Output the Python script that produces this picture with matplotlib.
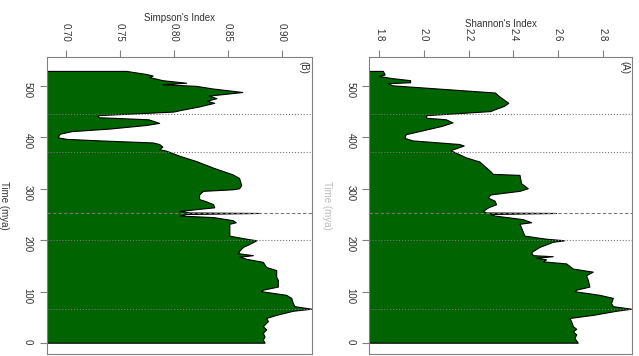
import numpy as np
import matplotlib
matplotlib.use('Agg')
import matplotlib.pyplot as plt

plt.rcParams['font.family'] = ['Liberation Sans', 'DejaVu Sans']

# Shannon's index, values (time in mya)
shannon_time = [528, 521, 518, 514, 510, 506, 504, 500, 486, 480, 466, 460, 452, 450,
                442, 437, 434, 428, 421, 414, 405, 398, 393, 386, 383, 374, 360, 352,
                333, 328, 326, 310, 300, 295, 288, 282, 276, 269, 263, 256, 253, 252,
                250, 247, 240, 234, 231, 224, 208, 202, 199, 196, 186, 176, 170, 168,
                165, 162, 158, 154, 149, 144, 138, 131, 122, 109, 103, 100, 93, 87,
                77, 71, 66, 62, 54, 48, 42, 32, 27, 22, 16, 9, 0]
shannon = [1.818, 1.826, 1.80, 1.86, 1.94, 1.94, 1.84, 1.86, 2.32, 2.335, 2.38, 2.36, 2.31, 2.30,
           2.012, 2.012, 2.10, 2.13, 2.08, 2.01, 1.92, 1.915, 1.95, 2.16, 2.18, 2.12, 2.19, 2.25,
           2.30, 2.31, 2.43, 2.437, 2.467, 2.43, 2.30, 2.288, 2.318, 2.325, 2.29, 2.266, 2.28, 2.594,
           2.30, 2.318, 2.445, 2.482, 2.43, 2.437, 2.452, 2.549, 2.631, 2.579, 2.519, 2.482, 2.49, 2.579,
           2.504, 2.549, 2.534, 2.639, 2.654, 2.669, 2.758, 2.728, 2.736, 2.743, 2.684, 2.676, 2.788, 2.848,
           2.840, 2.848, 2.93, 2.863, 2.758, 2.654, 2.661, 2.669, 2.684, 2.669, 2.684, 2.676, 2.691]

# Simpson's index
simpson_time = [528, 522, 519, 516, 510, 505, 502, 499, 494, 487, 480, 475, 470, 466,
                459, 453, 449, 442, 438, 434, 427, 423, 416, 411, 406, 399, 396, 393,
                389, 386, 381, 376, 373, 363, 353, 340, 327, 320, 306, 300, 298, 295,
                288, 279, 275, 269, 263, 260, 256, 253, 252, 250, 247, 244, 238, 234,
                231, 218, 208, 202, 199, 192, 186, 179, 174, 170, 167, 163, 157, 147,
                141, 128, 122, 109, 103, 100, 93, 87, 77, 71, 66, 62, 54, 48,
                42, 32, 26, 19, 12, 6, 0]
simpson = [0.7565, 0.775, 0.781, 0.778, 0.79, 0.812, 0.79, 0.821, 0.836, 0.864, 0.833, 0.840, 0.831, 0.838,
           0.824, 0.809, 0.800, 0.730, 0.731, 0.777, 0.787, 0.775, 0.741, 0.706, 0.695, 0.693, 0.701, 0.732,
           0.781, 0.787, 0.790, 0.787, 0.7935, 0.806, 0.821, 0.837, 0.855, 0.861, 0.863, 0.861, 0.855, 0.8275,
           0.824, 0.824, 0.83, 0.837, 0.838, 0.824, 0.806, 0.815, 0.880, 0.812, 0.806, 0.837, 0.855, 0.858,
           0.852, 0.852, 0.852, 0.8676, 0.877, 0.8707, 0.8645, 0.8614, 0.8599, 0.8738, 0.8614, 0.8676, 0.883, 0.8861,
           0.8954, 0.8954, 0.8969, 0.8969, 0.883, 0.8815, 0.9046, 0.9093, 0.9108, 0.9123, 0.9278, 0.9108, 0.8954, 0.8861,
           0.8877, 0.883, 0.8861, 0.883, 0.8846, 0.883, 0.8846]

# mass extinction markers
extinctions = [445, 372, 252, 200, 66]
ext_styles = [':', ':', (0, (3, 2)), ':', ':']

time_ticks = [0, 100, 200, 300, 400, 500]
shannon_ticks = [1.8, 2.0, 2.2, 2.4, 2.6, 2.8]
simpson_ticks = [0.70, 0.75, 0.80, 0.85, 0.90]

W, H = 639, 356
fig = plt.figure(figsize=(W / 100, H / 100), dpi=100)

txt = '#333333'
edge = '#808080'


def panel(rect, t, v, xlim, xticks, xlabel, tag, ylab_color):
    ax = fig.add_axes(rect)
    ax.fill_betweenx(t, 0, v, facecolor='darkgreen', edgecolor='black', lw=0.8, zorder=2)
    for e, ls in zip(extinctions, ext_styles):
        ax.axhline(e, color='#777777', ls=ls, lw=0.8, zorder=3)
    ax.set_xlim(*xlim)
    ax.set_ylim(-21, 556)
    ax.xaxis.tick_top()
    ax.xaxis.set_label_position('top')
    ax.set_xticks(xticks)
    ax.set_xticklabels(['%.2f' % x if xlim[0] < 1 else '%.1f' % x for x in xticks])
    ax.set_yticks(time_ticks)
    ax.tick_params(axis='x', labelrotation=-90, length=5, pad=6, labelsize=7,
                   colors=edge, labelcolor=txt, width=0.8)
    ax.tick_params(axis='y', labelrotation=-90, length=5, pad=5, labelsize=7,
                   colors=edge, labelcolor=txt, width=0.8)
    for s in ax.spines.values():
        s.set_color(edge)
        s.set_linewidth(0.8)
    ax.set_xlabel(xlabel, fontsize=7, color=txt, labelpad=1)
    ax.set_ylabel('Time (mya)', fontsize=7, color=ylab_color, rotation=-90, labelpad=17)
    ax.text(0.968, 0.966, tag, transform=ax.transAxes, rotation=-90, fontsize=7,
            color=txt, ha='center', va='center')
    return ax


panel([46.7 / W, 2 / H, 265 / W, 297 / H], simpson_time, simpson,
      (0.6824, 0.9278), simpson_ticks, "Simpson's Index", '(B)', txt)
panel([369.3 / W, 2 / H, 263 / W, 297 / H], shannon_time, shannon,
      (1.755, 2.933), shannon_ticks, "Shannon's Index", '(A)', '#bbbbbb')

fig.savefig('out.png', dpi=100)
